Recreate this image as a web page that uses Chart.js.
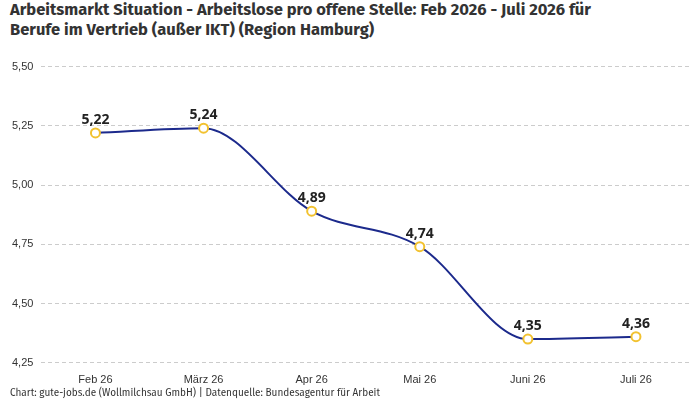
<!DOCTYPE html>
<html><head><meta charset="utf-8">
<script src="https://cdn.jsdelivr.net/npm/chart.js@4"></script>
<style>
body{margin:0;width:700px;height:400px;background:#fff;font-family:"Fira Sans","Noto Sans",sans-serif;position:relative;overflow:hidden}
#title{position:absolute;left:10px;top:0px;font-size:16.5px;font-weight:bold;color:#333;line-height:20px}
#wrap{position:absolute;left:0;top:52px;width:700px;height:338px}
#foot{position:absolute;left:10px;top:387px;font-size:10px;color:#333}
</style></head><body>
<div id="title">Arbeitsmarkt Situation - Arbeitslose pro offene Stelle: Feb 2026 - Juli 2026 für<br>Berufe im Vertrieb (außer IKT) (Region Hamburg)</div>
<div id="wrap"><canvas id="c"></canvas></div>
<div id="foot">Chart: gute-jobs.de (Wollmilchsau GmbH) | Datenquelle: Bundesagentur für Arbeit</div>
<script>
var months = ['Feb 26', 'März 26', 'Apr 26', 'Mai 26', 'Juni 26', 'Juli 26'];
var values = [5.22, 5.24, 4.89, 4.74, 4.35, 4.36];

function fmt(v, d) { return v.toFixed(d).replace('.', ','); }

var labelPlugin = {
    id: 'pointLabels',
    afterDatasetsDraw: function (chart) {
        var ctx = chart.ctx;
        var meta = chart.getDatasetMeta(0);
        ctx.save();
        ctx.font = 'bold 14px "Noto Sans", sans-serif';
        ctx.fillStyle = '#222';
        ctx.textAlign = 'center';
        ctx.textBaseline = 'bottom';
        meta.data.forEach(function (p, i) {
            ctx.fillText(fmt(values[i], 2), p.x, p.y - 6);
        });
        ctx.restore();
    }
};

new Chart(document.getElementById('c'), {
    type: 'line',
    data: {
        labels: months,
        datasets: [{
            data: values,
            borderColor: '#1c2a8c',
            borderWidth: 2,
            tension: 0.4,
            cubicInterpolationMode: 'monotone',
            pointBackgroundColor: '#fff',
            pointBorderColor: '#f2c230',
            pointBorderWidth: 2,
            pointRadius: 4.5
        }]
    },
    options: {
        responsive: true,
        maintainAspectRatio: false,
        animation: false,
        layout: { padding: { top: 12, right: 10, left: 4 } },
        plugins: { legend: { display: false }, tooltip: { enabled: false } },
        scales: {
            x: {
                offset: true,
                grid: { display: false },
                border: { display: false },
                ticks: { color: '#333', font: { size: 11 } }
            },
            y: {
                min: 4.25, max: 5.5,
                grid: { color: '#ccc', tickLength: 0 },
                border: { display: false, dash: [4, 3] },
                ticks: { stepSize: 0.25, color: '#333', font: { size: 11 }, padding: 8,
                    callback: function (v) { return fmt(v, 2); } }
            }
        }
    },
    plugins: [labelPlugin]
});
</script>
</body></html>
